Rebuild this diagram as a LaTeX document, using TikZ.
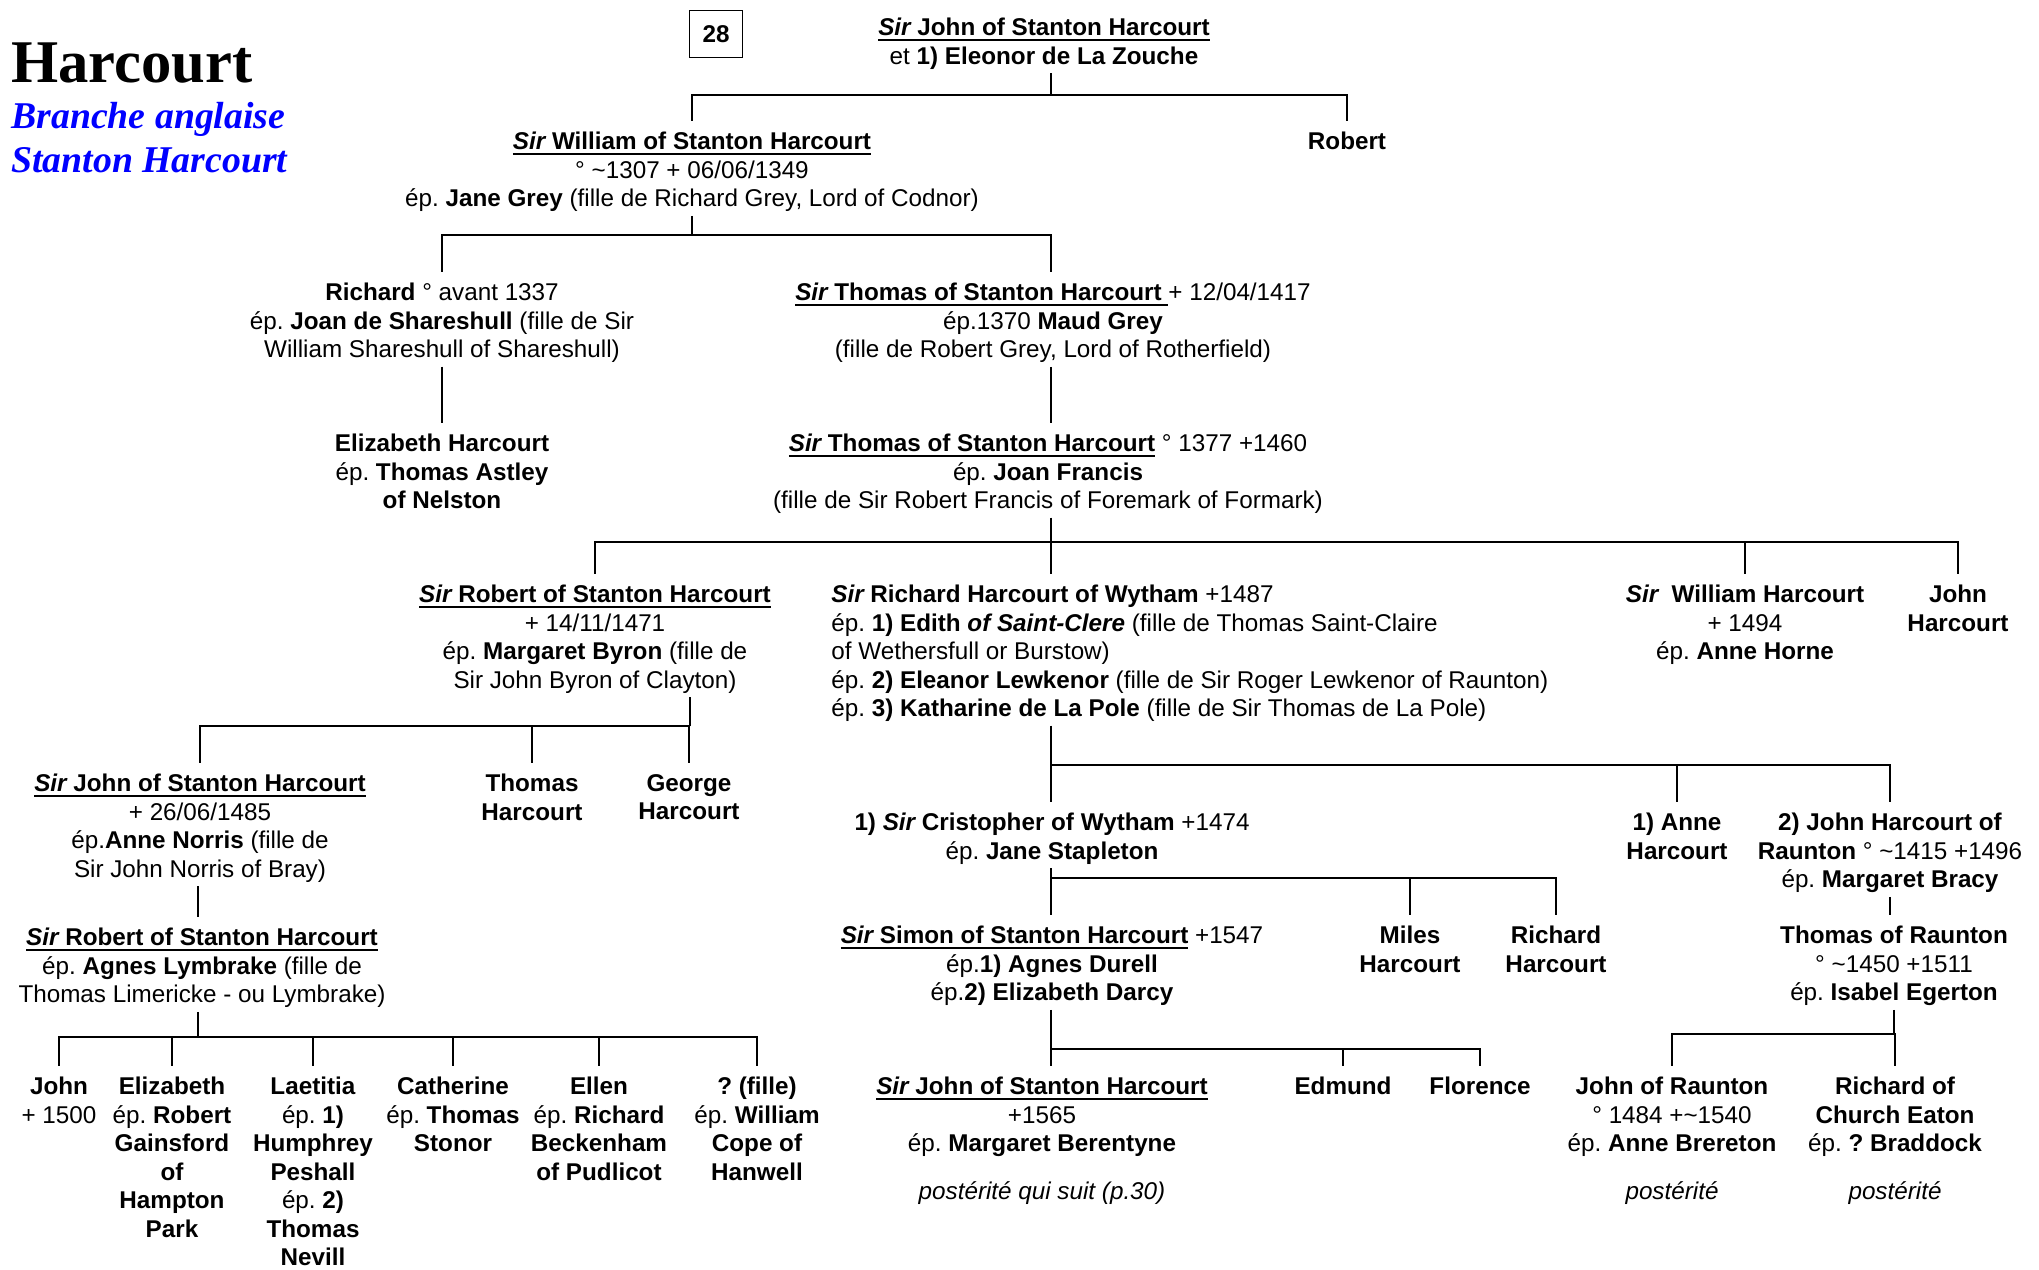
\documentclass[tikz,border=0pt]{standalone}
\usepackage{fontspec}
\setmainfont{Liberation Sans}
\newfontfamily\titrefont{Liberation Serif}
\frenchspacing

% soulignement epais
\newcommand{\souligne}[1]{\leavevmode\setbox0\hbox{#1}\rlap{\rule[-3pt]{\wd0}{1.1pt}}\box0\relax}

\tikzset{
  personne/.style={anchor=north, align=center, inner sep=2pt, font=\fontsize{13.8}{16.2}\selectfont},
  lien/.style={line width=1.1pt},
  descente/.style={line width=1.1pt, shorten >=4pt},
  titre/.style={anchor=base west, inner sep=0pt},
}

\begin{document}
\begin{tikzpicture}[x=0.02cm, y=-0.02cm]
  \useasboundingbox (0,0) rectangle (2039,1270);

  \node[titre, font=\titrefont\fontsize{34.5}{34.5}\selectfont\bfseries] (nom) at (11,83) {Harcourt};
  \node[titre, text=blue, font=\titrefont\fontsize{21.5}{25}\selectfont\bfseries\itshape] (branche) at (11,129) {Branche anglaise};
  \node[titre, text=blue, font=\titrefont\fontsize{21.5}{25}\selectfont\bfseries\itshape] (stanton) at (11,173) {Stanton Harcourt};
  \node[draw, line width=0.8pt, minimum width=30pt, minimum height=27pt, font=\fontsize{13.8}{16.2}\selectfont\bfseries] (page) at (716,34) {28};

  % generations du haut
  \node[personne] (sirjohn) at (1044,14.5) {\textbf{\souligne{{\itshape Sir} John of Stanton Harcourt}}\\et \textbf{1) Eleonor de La Zouche}};
  \node[personne] (william) at (692,128.5) {\textbf{\souligne{{\itshape Sir} William of Stanton Harcourt}}\\° \textasciitilde1307 + 06/06/1349\\ép. \textbf{Jane Grey} (fille de Richard Grey, Lord of Codnor)};
  \node[personne] (robert) at (1347,128.5) {\textbf{Robert}};
  \node[personne] (richard) at (442,279.5) {\textbf{Richard} ° avant 1337\\ép. \textbf{Joan de Shareshull} (fille de Sir\\William Shareshull of Shareshull)};
  \node[personne] (thomas) at (1053,279.5) {\souligne{\textbf{{\itshape Sir} Thomas of Stanton Harcourt} }+ 12/04/1417\\ép.1370 \textbf{Maud Grey}\\(fille de Robert Grey, Lord of Rotherfield)};
  \node[personne] (elizabeth) at (442,430.5) {\textbf{Elizabeth Harcourt}\\ép. \textbf{Thomas Astley}\\\textbf{of Nelston}};
  \node[personne] (thomasii) at (1048,430.5) {\souligne{\textbf{{\itshape Sir} Thomas of Stanton Harcourt}} ° 1377 +1460\\ép. \textbf{Joan Francis}\\(fille de Sir Robert Francis of Foremark of Formark)};

  \node[personne] (robertii) at (595,581.5) {\textbf{\souligne{{\itshape Sir} Robert of Stanton Harcourt}}\\+ 14/11/1471\\ép. \textbf{Margaret Byron} (fille de\\Sir John Byron of Clayton)};
  \node[personne, anchor=north west, align=left] (wytham) at (827.5,581.5) {\textbf{{\itshape Sir} Richard Harcourt of Wytham} +1487\\ép. \textbf{1) Edith {\itshape of Saint-Clere}} (fille de Thomas Saint-Claire\\of Wethersfull or Burstow)\\ép. \textbf{2) Eleanor Lewkenor} (fille de Sir Roger Lewkenor of Raunton)\\ép. \textbf{3) Katharine de La Pole} (fille de Sir Thomas de La Pole)};
  \node[personne] (williamh) at (1745,581.5) {\textbf{{\itshape Sir}\ \ William Harcourt}\\+ 1494\\ép. \textbf{Anne Horne}};
  \node[personne] (johnh) at (1958,581.5) {\textbf{John}\\\textbf{Harcourt}};

  % branche de Stanton Harcourt
  \node[personne] (johnn) at (200,770.5) {\textbf{\souligne{{\itshape Sir} John of Stanton Harcourt}}\\+ 26/06/1485\\ép.\textbf{Anne Norris} (fille de\\Sir John Norris of Bray)};
  \node[personne] (thomash) at (532,770.5) {\textbf{Thomas}\\\textbf{Harcourt}};
  \node[personne] (george) at (689,770.5) {\textbf{George}\\\textbf{Harcourt}};
  \node[personne] (robertiii) at (202,924.5) {\textbf{\souligne{{\itshape Sir} Robert of Stanton Harcourt}}\\ép. \textbf{Agnes Lymbrake} (fille de\\Thomas Limericke - ou Lymbrake)};

  \node[personne] (john) at (59,1073.5) {\textbf{John}\\+ 1500};
  \node[personne] (elizabethii) at (172,1073.5) {\textbf{Elizabeth}\\ép. \textbf{Robert}\\\textbf{Gainsford}\\\textbf{of}\\\textbf{Hampton}\\\textbf{Park}};
  \node[personne] (laetitia) at (313,1073.5) {\textbf{Laetitia}\\ép. \textbf{1)}\\\textbf{Humphrey}\\\textbf{Peshall}\\ép. \textbf{2)}\\\textbf{Thomas}\\\textbf{Nevill}};
  \node[personne] (catherine) at (453,1073.5) {\textbf{Catherine}\\ép. \textbf{Thomas}\\\textbf{Stonor}};
  \node[personne] (ellen) at (599,1073.5) {\textbf{Ellen}\\ép. \textbf{Richard}\\\textbf{Beckenham}\\\textbf{of Pudlicot}};
  \node[personne] (fille) at (757,1073.5) {\textbf{? (fille)}\\ép. \textbf{William}\\\textbf{Cope of}\\\textbf{Hanwell}};

  % branche de Wytham et de Raunton
  \node[personne] (cristopher) at (1052,809.5) {\textbf{1) {\itshape Sir} Cristopher of Wytham} +1474\\ép. \textbf{Jane Stapleton}};
  \node[personne] (anne) at (1677,809.5) {\textbf{1) Anne}\\\textbf{Harcourt}};
  \node[personne] (johnr) at (1890,809.5) {\textbf{2) John Harcourt of}\\\textbf{Raunton} ° \textasciitilde1415 +1496\\ép. \textbf{Margaret Bracy}};
  \node[personne] (simon) at (1052,922.5) {\souligne{\textbf{{\itshape Sir} Simon of Stanton Harcourt}} +1547\\ép.\textbf{1) Agnes Durell}\\ép.\textbf{2) Elizabeth Darcy}};
  \node[personne] (miles) at (1410,922.5) {\textbf{Miles}\\\textbf{Harcourt}};
  \node[personne] (richardh) at (1556,922.5) {\textbf{Richard}\\\textbf{Harcourt}};
  \node[personne] (thomasr) at (1894,922.5) {\textbf{Thomas of Raunton}\\° \textasciitilde1450 +1511\\ép. \textbf{Isabel Egerton}};
  \node[personne] (johns) at (1042,1073.5) {\textbf{\souligne{{\itshape Sir} John of Stanton Harcourt}}\\+1565\\ép. \textbf{Margaret Berentyne}\\[11pt]\textit{postérité qui suit (p.30)}};
  \node[personne] (edmund) at (1343,1073.5) {\textbf{Edmund}};
  \node[personne] (florence) at (1480,1073.5) {\textbf{Florence}};
  \node[personne] (johnra) at (1672,1073.5) {\textbf{John of Raunton}\\° 1484 +\textasciitilde1540\\ép. \textbf{Anne Brereton}\\[11pt]\textit{postérité}};
  \node[personne] (richardce) at (1895,1073.5) {\textbf{Richard of}\\\textbf{Church Eaton}\\ép. \textbf{? Braddock}\\[11pt]\textit{postérité}};

  % liens
  \coordinate (f0) at (1051,95);
  \coordinate (f1) at (692,235);
  \coordinate (f2) at (1051,542);
  \coordinate (f3) at (690,726);
  \coordinate (f4) at (198,1037);
  \coordinate (f5) at (1051,765);
  \coordinate (f6) at (1051,878);
  \coordinate (f7) at (1051,1049);
  \coordinate (f8) at (1894,1034);

  \draw[lien] (sirjohn.south -| f0) -- (f0);
  \draw[descente] (f0) -| (william.north);
  \draw[descente] (f0) -| (robert.north);

  \draw[lien] (william.south -| f1) -- (f1);
  \draw[descente] (f1) -| (richard.north);
  \draw[descente] (f1) -| (thomas.north -| f0);

  \draw[descente] (richard.south -| elizabeth.north) -- (elizabeth.north);
  \draw[descente] (thomas.south -| f2) -- (thomasii.north -| f2);

  \draw[lien] (thomasii.south -| f2) -- (f2);
  \draw[descente] (f2) -| (robertii.north);
  \draw[descente] (f2) -- (wytham.north -| f2);
  \draw[descente] (f2) -| (williamh.north);
  \draw[descente] (f2) -| (johnh.north);

  \draw[lien] (robertii.south -| f3) -- (f3);
  \draw[descente] (f3) -| (johnn.north);
  \draw[descente] (f3) -| (thomash.north);
  \draw[descente] (f3) -| (george.north);

  \draw[descente] (johnn.south -| f4) -- (robertiii.north -| f4);

  \draw[lien] (robertiii.south -| f4) -- (f4);
  \draw[descente] (f4) -| (john.north);
  \draw[descente] (f4) -| (elizabethii.north);
  \draw[descente] (f4) -| (laetitia.north);
  \draw[descente] (f4) -| (catherine.north);
  \draw[descente] (f4) -| (ellen.north);
  \draw[descente] (f4) -| (fille.north);

  \draw[lien] (wytham.south -| f5) -- (f5);
  \draw[descente] (f5) -- (cristopher.north -| f5);
  \draw[descente] (f5) -| (anne.north);
  \draw[descente] (f5) -| (johnr.north);

  \draw[lien] (cristopher.south -| f6) -- (f6);
  \draw[descente] (f6) -- (simon.north -| f6);
  \draw[descente] (f6) -| (miles.north);
  \draw[descente] (f6) -| (richardh.north);

  \draw[descente] (johnr.south) -- (johnr.south |- thomasr.north);

  \draw[lien] (simon.south -| f7) -- (f7);
  \draw[descente] (f7) -- (johns.north -| f7);
  \draw[descente] (f7) -| (edmund.north);
  \draw[descente] (f7) -| (florence.north);

  \draw[lien] (thomasr.south -| f8) -- (f8);
  \draw[descente] (f8) -| (johnra.north);
  \draw[descente] (f8) -| (richardce.north);
\end{tikzpicture}
\end{document}
